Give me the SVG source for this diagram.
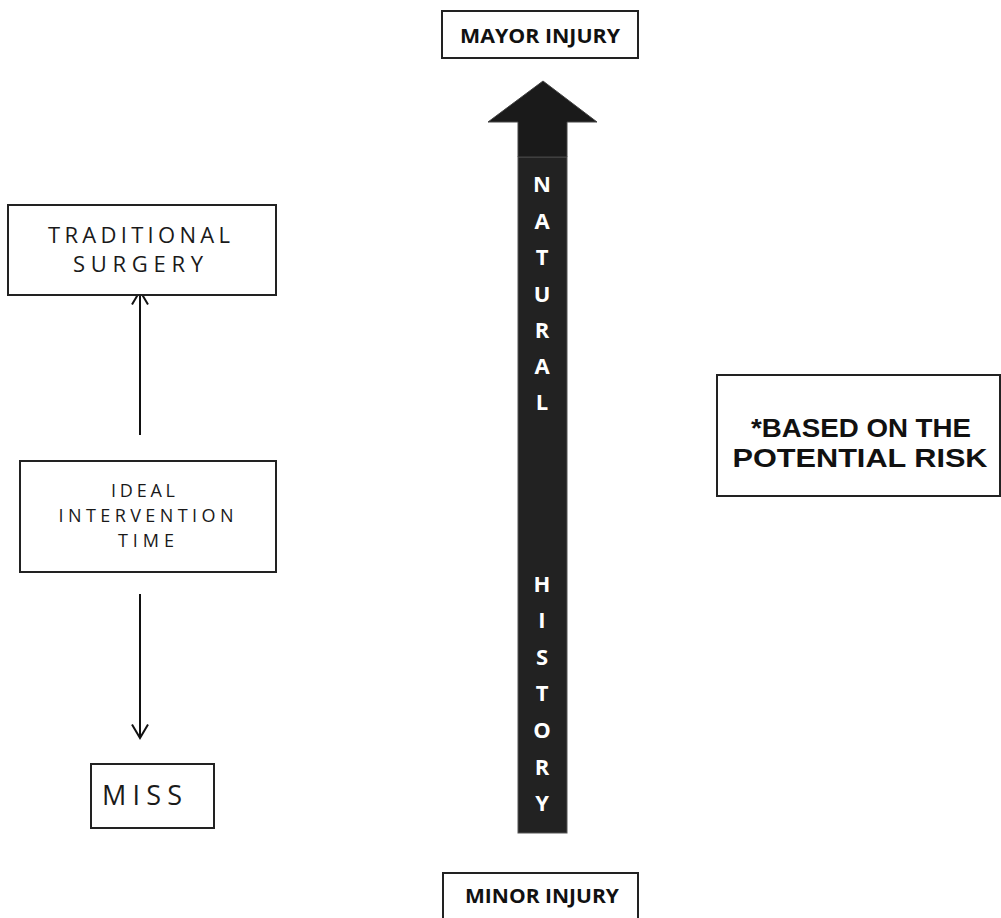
<svg xmlns="http://www.w3.org/2000/svg" width="1001" height="918" viewBox="0 0 1001 918">
<style>
.box{fill:#fff;stroke:#222;stroke-width:2}
.thin{font-family:"Open Sans","DejaVu Sans",sans-serif;font-weight:400;fill:#1a1a1a;text-anchor:middle}
.bold{font-family:"Open Sans","DejaVu Sans",sans-serif;font-weight:700;fill:#111;text-anchor:middle}
.note{font-family:"Liberation Sans",Arial,sans-serif;font-weight:700;fill:#111;text-anchor:middle;font-size:26px}
.vert{font-family:"Open Sans","DejaVu Sans",sans-serif;font-weight:700;fill:#fff;text-anchor:middle;font-size:22px}
.conn{stroke:#111;stroke-width:2;fill:none}
</style>
<defs>
<marker id="vee" viewBox="0 0 16 18" refX="14.5" refY="9" markerWidth="16" markerHeight="18" markerUnits="userSpaceOnUse" orient="auto">
<path d="M1,1 L14.5,9 L1,17" fill="none" stroke="#111" stroke-width="2"/>
</marker>
</defs>
<rect width="1001" height="918" fill="#fff"/>

<g id="connectors">
<line class="conn" x1="140" y1="435" x2="140" y2="291" marker-end="url(#vee)"/>
<line class="conn" x1="140" y1="594" x2="140" y2="738" marker-end="url(#vee)"/>
</g>

<g id="natural-history-arrow">
<rect x="518" y="157" width="49" height="676" fill="#222" stroke="#555" stroke-width="1"/>
<polygon points="543,81 597,122 567,122 567,157 518,157 518,122 488,122" fill="#1a1a1a" stroke="#444" stroke-width="1"/>
<text class="vert" x="542" y="192">N</text>
<text class="vert" x="542" y="229">A</text>
<text class="vert" x="542" y="265">T</text>
<text class="vert" x="542" y="302">U</text>
<text class="vert" x="542" y="338">R</text>
<text class="vert" x="542" y="374">A</text>
<text class="vert" x="542" y="410">L</text>
<text class="vert" x="542" y="592">H</text>
<text class="vert" x="542" y="628">I</text>
<text class="vert" x="542" y="665">S</text>
<text class="vert" x="542" y="701">T</text>
<text class="vert" x="542" y="738">O</text>
<text class="vert" x="542" y="775">R</text>
<text class="vert" x="542" y="811">Y</text>
</g>

<g id="mayor-injury">
<rect class="box" x="442" y="11" width="196" height="47"/>
<text class="bold" x="540" y="43" font-size="19" textLength="160" lengthAdjust="spacingAndGlyphs">MAYOR INJURY</text>
</g>

<g id="minor-injury">
<rect class="box" x="443" y="873" width="195" height="50"/>
<text class="bold" x="542" y="903" font-size="19" textLength="154" lengthAdjust="spacingAndGlyphs">MINOR INJURY</text>
</g>

<g id="traditional-surgery">
<rect class="box" x="8" y="205" width="268" height="90"/>
<text class="thin" x="139" y="243" font-size="22" textLength="182" lengthAdjust="spacing">TRADITIONAL</text>
<text class="thin" x="138" y="272" font-size="22" textLength="130" lengthAdjust="spacing">SURGERY</text>
</g>

<g id="ideal-intervention-time">
<rect class="box" x="20" y="461" width="256" height="111"/>
<text class="thin" x="143" y="497" font-size="18" textLength="64" lengthAdjust="spacing">IDEAL</text>
<text class="thin" x="146" y="522" font-size="18" textLength="175" lengthAdjust="spacing">INTERVENTION</text>
<text class="thin" x="146" y="547" font-size="18" textLength="56" lengthAdjust="spacing">TIME</text>
</g>

<g id="miss">
<rect class="box" x="91" y="764" width="123" height="64"/>
<text class="thin" x="142" y="805" font-size="27" textLength="80" lengthAdjust="spacing">MISS</text>
</g>

<g id="based-on-risk">
<rect class="box" x="717" y="375" width="283" height="121"/>
<text class="note" x="861" y="437" textLength="220" lengthAdjust="spacingAndGlyphs">*BASED ON THE</text>
<text class="note" x="860" y="467" textLength="255" lengthAdjust="spacingAndGlyphs">POTENTIAL RISK</text>
</g>
</svg>
